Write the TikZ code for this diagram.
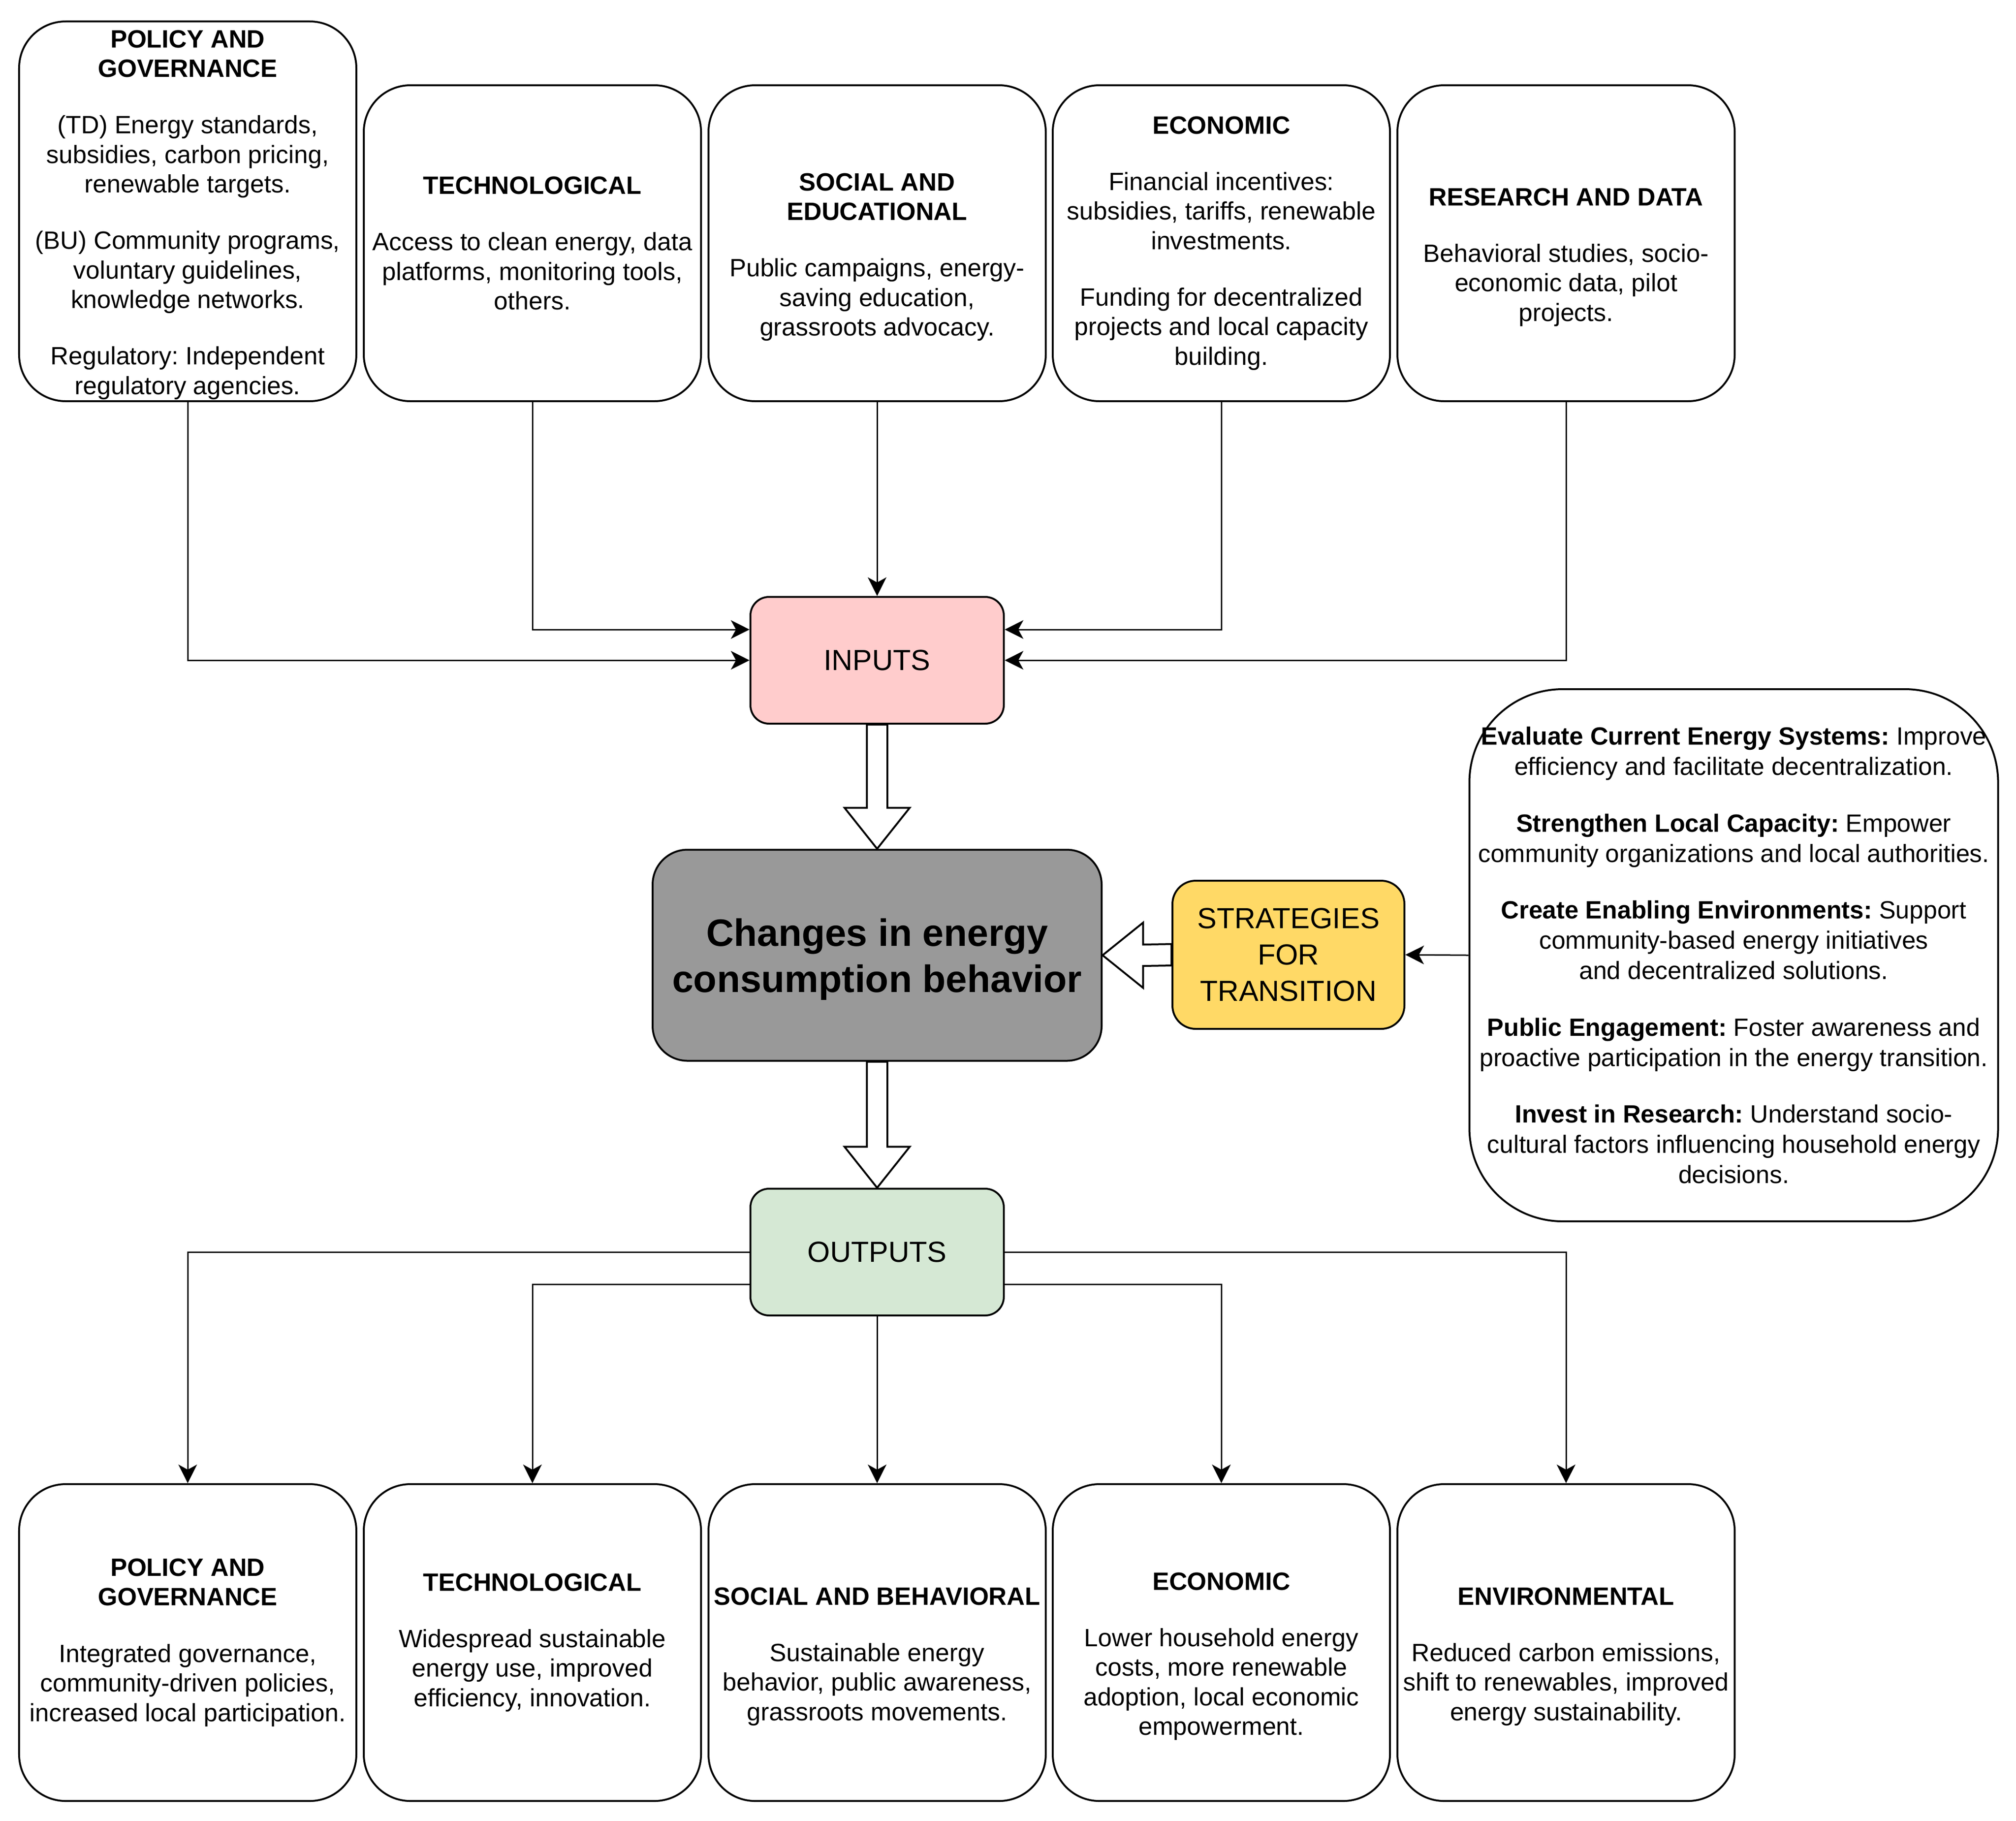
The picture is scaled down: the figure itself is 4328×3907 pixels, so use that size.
\documentclass[tikz,border=0pt]{standalone}
\usepackage{fontspec}
\setmainfont{Liberation Sans}
\frenchspacing
\usetikzlibrary{arrows.meta,calc}
\definecolor{inpink}{HTML}{FFCCCC}
\definecolor{outgreen}{HTML}{D5E8D4}
\definecolor{midgray}{HTML}{999999}
\definecolor{stratyellow}{HTML}{FFD966}
\newcommand{\topgap}{\rule{0pt}{19.5pt}}
\newcommand{\bl}{\\[11.5pt]}
\newcommand{\sbl}{\\[11.3pt]}
\tikzset{
  box/.style={draw, line width=0.8pt, rounded corners=20pt, minimum width=144.8pt,
    inner sep=0pt, align=center, font=\fontsize{10.75}{12.7}\selectfont},
  topbox/.style={box, minimum height=135.6pt},
  botbox/.style={box, minimum height=136pt},
  smallbox/.style={draw, line width=0.8pt, rounded corners=8pt, minimum width=108.8pt,
    minimum height=54.4pt, inner sep=0pt, align=center, font=\fontsize{12.5}{15.6}\selectfont},
  conn/.style={line width=0.6pt, -{Stealth[length=8pt,width=8pt,inset=2.2pt]}},
  blockarrow/.style={draw, line width=0.8pt, fill=white, line join=miter},
}
\begin{document}
\begin{tikzpicture}[x=0.2pt,y=-0.2pt]
\fill[white] (0,0) rectangle (4328,3907);
\useasboundingbox (0,0) rectangle (4328,3907);

% top boxes
\node[box, minimum height=163pt] (tpol) at (403,453.5) {\rule{0pt}{10.5pt}\textbf{POLICY AND}\\\textbf{GOVERNANCE}\bl
(TD) Energy standards,\\subsidies, carbon pricing,\\renewable targets.\bl
(BU) Community programs,\\voluntary guidelines,\\knowledge networks.\bl
Regulatory: Independent\\regulatory agencies.};
\node[topbox] (ttech) at (1143,522) {\textbf{TECHNOLOGICAL}\bl
Access to clean energy, data\\platforms, monitoring tools,\\others.};
\node[topbox] (tsoc) at (1883,522) {\topgap\textbf{SOCIAL AND}\\\textbf{EDUCATIONAL}\bl
Public campaigns, energy-\\saving education,\\grassroots advocacy.};
\node[topbox] (tecon) at (2622,522) {\textbf{ECONOMIC}\bl
Financial incentives:\\subsidies, tariffs, renewable\\investments.\bl
Funding for decentralized\\projects and local capacity\\building.};
\node[topbox] (tres) at (3362,522) {\topgap\textbf{RESEARCH AND DATA}\bl
Behavioral studies, socio-\\economic data, pilot\\projects.};

% inputs / center / outputs
\node[smallbox, fill=inpink] (inputs) at (1883,1417) {INPUTS};
\node[draw, line width=0.8pt, rounded corners=15pt, fill=midgray, minimum width=192.8pt,
  minimum height=90.6pt, inner sep=0pt, align=center,
  font=\bfseries\fontsize{16.4}{19.7}\selectfont] (center) at (1883,2050)
  {\rule{0pt}{15.4pt}Changes in energy\\consumption behavior};
\node[smallbox, fill=outgreen] (outputs) at (1883,2687) {OUTPUTS};

% strategies
\node[smallbox, fill=stratyellow, rounded corners=10pt, minimum width=99.6pt,
  minimum height=63.6pt] (strat) at (2766,2049) {STRATEGIES\\FOR\\TRANSITION};
\node[draw, line width=0.8pt, rounded corners=40pt, minimum width=227pt, minimum height=228.4pt,
  inner sep=0pt, align=center, font=\fontsize{10.7}{13}\selectfont] (stratlist) at (3722,2050)
{\textbf{Evaluate Current Energy Systems:} Improve\\efficiency and facilitate decentralization.\sbl
\textbf{Strengthen Local Capacity:} Empower\\community organizations and local authorities.\sbl
\textbf{Create Enabling Environments:} Support\\community-based energy initiatives\\and decentralized solutions.\sbl
\textbf{Public Engagement:} Foster awareness and\\proactive participation in the energy transition.\sbl
\textbf{Invest in Research:} Understand socio-\\cultural factors influencing household energy\\decisions.};

% bottom boxes
\node[botbox] (bpol) at (403,3525) {\textbf{POLICY AND}\\\textbf{GOVERNANCE}\bl
Integrated governance,\\community-driven policies,\\increased local participation.};
\node[botbox] (btech) at (1143,3525) {\textbf{TECHNOLOGICAL}\bl
Widespread sustainable\\energy use, improved\\efficiency, innovation.};
\node[botbox] (bsoc) at (1883,3525) {\topgap\textbf{SOCIAL AND BEHAVIORAL}\bl
Sustainable energy\\behavior, public awareness,\\grassroots movements.};
\node[botbox] (becon) at (2622,3525) {\topgap\textbf{ECONOMIC}\bl
Lower household energy\\costs, more renewable\\adoption, local economic\\empowerment.};
\node[botbox] (benv) at (3362,3525) {\topgap\textbf{ENVIRONMENTAL}\bl
Reduced carbon emissions,\\shift to renewables, improved\\energy sustainability.};

% connectors top
\draw[conn] (tpol.south) |- (inputs.west);
\draw[conn] (ttech.south) |- ($(inputs.west)+(0,-66)$);
\draw[conn] (tsoc.south) -- (inputs.north);
\draw[conn] (tecon.south) |- ($(inputs.east)+(0,-66)$);
\draw[conn] (tres.south) |- (inputs.east);

% connectors bottom
\draw[conn] (outputs.west) -| (bpol.north);
\draw[conn] ($(outputs.west)+(0,69)$) -| (btech.north);
\draw[conn] (outputs.south) -- (bsoc.north);
\draw[conn] ($(outputs.east)+(0,69)$) -| (becon.north);
\draw[conn] (outputs.east) -| (benv.north);

% strategies connector
\draw[conn] (stratlist.west) -- (strat.east);

% block arrows
\draw[blockarrow] ($(inputs.south)+(-22,0)$) -- ($(center.north)+(-22,-88)$) -- ($(center.north)+(-70,-88)$)
  -- (center.north) -- ($(center.north)+(70,-88)$) -- ($(center.north)+(22,-88)$) -- ($(inputs.south)+(22,0)$) -- cycle;
\draw[blockarrow] ($(center.south)+(-22,0)$) -- ($(outputs.north)+(-22,-88)$) -- ($(outputs.north)+(-70,-88)$)
  -- (outputs.north) -- ($(outputs.north)+(70,-88)$) -- ($(outputs.north)+(22,-88)$) -- ($(center.south)+(22,0)$) -- cycle;
\draw[blockarrow] ($(strat.west)+(0,-23)$) -- ($(center.east)+(87,-23)$) -- ($(center.east)+(87,-70)$)
  -- (center.east) -- ($(center.east)+(87,70)$) -- ($(center.east)+(87,23)$) -- ($(strat.west)+(0,23)$) -- cycle;
\end{tikzpicture}
\end{document}
